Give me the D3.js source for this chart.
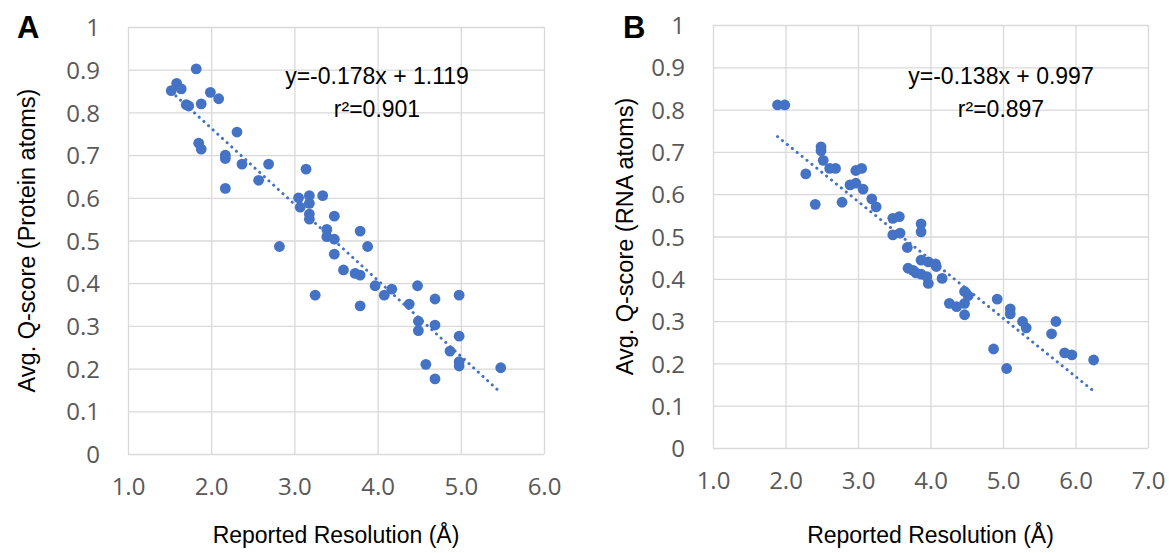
<!DOCTYPE html>
<html>
<head>
<meta charset="utf-8">
<script src="https://cdn.jsdelivr.net/npm/d3@7"></script>
<style>
  body { margin: 0; background: #fff; }
  svg { display: block; }
</style>
</head>
<body>
<div class="chart__container"></div>
<script>
//data
const PROTEIN_RES = [1.52, 1.585, 1.64, 1.82, 1.70, 1.73, 1.88, 1.99, 2.09, 1.85, 1.88, 2.31, 2.17, 2.17,
    2.37, 2.69, 2.57, 2.17, 3.14, 3.05, 3.18, 3.34, 3.18, 3.07, 3.18, 3.18, 3.48, 3.39, 3.39, 3.48,
    3.79, 3.88, 3.48, 2.82, 3.59, 3.73, 3.79, 3.97, 4.17, 4.08, 4.48, 4.38, 3.25, 3.79, 4.69, 4.98,
    4.49, 4.69, 4.49, 4.98, 4.87, 4.98, 4.98, 4.58, 4.69, 5.48];
const PROTEIN_Q = [0.851, 0.868, 0.855, 0.902, 0.818, 0.815, 0.820, 0.847, 0.832, 0.728, 0.714, 0.754, 0.700, 0.692,
    0.679, 0.679, 0.641, 0.622, 0.667, 0.600, 0.605, 0.605, 0.587, 0.578, 0.562, 0.550, 0.557, 0.526, 0.509, 0.503,
    0.522, 0.486, 0.468, 0.486, 0.431, 0.423, 0.419, 0.394, 0.386, 0.372, 0.394, 0.351, 0.372, 0.347, 0.363, 0.372,
    0.311, 0.302, 0.289, 0.276, 0.241, 0.216, 0.206, 0.210, 0.176, 0.202];

const RNA_RES = [1.89, 1.99, 2.49, 2.49, 2.52, 2.61, 2.69, 2.28, 2.41, 2.78, 2.97, 3.05, 2.89, 2.97, 3.07,
    3.19, 3.25, 3.48, 3.57, 3.87, 3.87, 3.48, 3.58, 3.68, 3.87, 3.97, 4.07, 3.69, 3.76, 3.80, 3.87,
    3.95, 3.97, 4.16, 4.08, 4.47, 4.52, 4.26, 4.36, 4.47, 4.47, 4.92, 5.10, 5.10, 5.27, 5.32, 5.73,
    5.67, 4.87, 5.05, 5.85, 5.95, 6.25];
const RNA_Q = [0.811, 0.811, 0.712, 0.703, 0.680, 0.661, 0.661, 0.648, 0.576, 0.581, 0.656, 0.661, 0.622, 0.626, 0.612,
    0.589, 0.570, 0.543, 0.547, 0.530, 0.511, 0.504, 0.508, 0.474, 0.444, 0.440, 0.435, 0.425, 0.420, 0.414, 0.411,
    0.405, 0.389, 0.401, 0.429, 0.370, 0.360, 0.342, 0.334, 0.342, 0.315, 0.352, 0.329, 0.317, 0.299, 0.284, 0.299,
    0.270, 0.234, 0.188, 0.225, 0.220, 0.208];

const X_TICKS_A = [1, 2, 3, 4, 5, 6];
const X_TICKS_B = [1, 2, 3, 4, 5, 6, 7];
const Y_TICKS = [0, 0.1, 0.2, 0.3, 0.4, 0.5, 0.6, 0.7, 0.8, 0.9, 1];

//trendline equations printed on the chart
const FIT_A = [-0.178, 1.119];
const FIT_B = [-0.138, 0.997];
const EQUATION_A = ["y=-0.178x + 1.119", "r²=0.901"];
const EQUATION_B = ["y=-0.138x + 0.997", "r²=0.897"];

const CHART__WIDTH = 1169;
const CHART__HEIGHT = 553;
const DOT_COLOR = "#4472c4";
const GRID_COLOR = "#d9d9d9";

const svg = d3.select(".chart__container").append("svg")
    .attr("width", CHART__WIDTH)
    .attr("height", CHART__HEIGHT)
    .style("background-color", "#fff");

const drawPanel = (p) => {
    const xScale = d3.scaleLinear().domain(p.xDomain).range([p.left, p.right]);
    const yScale = d3.scaleLinear().domain([0, 1]).range([p.bottom, p.top]);

    //grid + ticks
    const yAxis = d3.axisLeft(yScale).tickValues(Y_TICKS)
        .tickSize(-(p.right - p.left))
        .tickPadding(28)
        .tickFormat(d => (d === 0 || d === 1) ? String(d) : d.toFixed(1));
    const gy = svg.append("g").attr("transform", `translate(${p.left},0)`).call(yAxis);

    const xAxis = d3.axisBottom(xScale).tickValues(p.xTicks)
        .tickSize(-(p.bottom - p.top))
        .tickPadding(24)
        .tickFormat(d => d.toFixed(1));
    const gx = svg.append("g").attr("transform", `translate(0,${p.bottom})`).call(xAxis);

    [gx, gy].forEach(g => {
        g.select(".domain").remove();
        g.selectAll("line").attr("stroke", GRID_COLOR).attr("stroke-width", 1.3);
        g.selectAll("text")
            .attr("fill", "#595959")
            .style("font-family", "'Open Sans', sans-serif")
            .style("font-size", "24px");
    });
    gy.selectAll("text").attr("dy", "0.36em");

    //trendline
    const xs = d3.extent(p.xData);
    svg.append("line")
        .attr("x1", xScale(xs[0])).attr("y1", yScale(p.fit[0] * xs[0] + p.fit[1]))
        .attr("x2", xScale(xs[1])).attr("y2", yScale(p.fit[0] * xs[1] + p.fit[1]))
        .attr("stroke", DOT_COLOR)
        .attr("stroke-width", 3)
        .attr("stroke-linecap", "round")
        .attr("stroke-dasharray", "0.1,6.2");

    //points
    svg.append("g").selectAll("circle")
        .data(p.xData.map((x, i) => [x, p.yData[i]]))
        .enter()
        .append("circle")
        .attr("r", 5.4)
        .attr("cx", d => xScale(d[0]))
        .attr("cy", d => yScale(d[1]))
        .attr("fill", DOT_COLOR);

    //equation
    const eq = svg.append("text")
        .attr("text-anchor", "middle")
        .style("font-family", "'Liberation Sans', Arial, sans-serif")
        .style("font-size", "23px")
        .attr("fill", "#000");
    eq.append("tspan").attr("x", p.eqX).attr("y", 84).text(p.equation[0]);
    eq.append("tspan").attr("x", p.eqX).attr("y", 117).text(p.equation[1]);

    //panel letter
    svg.append("text")
        .attr("x", p.letterX).attr("y", 38)
        .style("font-family", "'Liberation Sans', Arial, sans-serif")
        .style("font-size", "31px")
        .style("font-weight", "bold")
        .text(p.letter);

    //axis titles
    svg.append("text")
        .attr("transform", `translate(${p.yTitleX},${(p.top + p.bottom) / 2}) rotate(-90)`)
        .attr("text-anchor", "middle")
        .style("font-family", "'Liberation Sans', Arial, sans-serif")
        .style("font-size", "23.5px")
        .text(p.yTitle);

    svg.append("text")
        .attr("x", (p.left + p.right) / 2).attr("y", 543)
        .attr("text-anchor", "middle")
        .style("font-family", "'Liberation Sans', Arial, sans-serif")
        .style("font-size", "23px")
        .text("Reported Resolution (Å)");
};

drawPanel({
    letter: "A", letterX: 17,
    left: 128, right: 544, top: 27, bottom: 454,
    xDomain: [1, 6], xTicks: X_TICKS_A,
    xData: PROTEIN_RES, yData: PROTEIN_Q,
    fit: FIT_A, equation: EQUATION_A, eqX: 377,
    yTitle: "Avg. Q-score (Protein atoms)", yTitleX: 35
});

drawPanel({
    letter: "B", letterX: 623,
    left: 713, right: 1148, top: 25, bottom: 448,
    xDomain: [1, 7], xTicks: X_TICKS_B,
    xData: RNA_RES, yData: RNA_Q,
    fit: FIT_B, equation: EQUATION_B, eqX: 1001,
    yTitle: "Avg. Q-score (RNA atoms)", yTitleX: 633
});
</script>
</body>
</html>
